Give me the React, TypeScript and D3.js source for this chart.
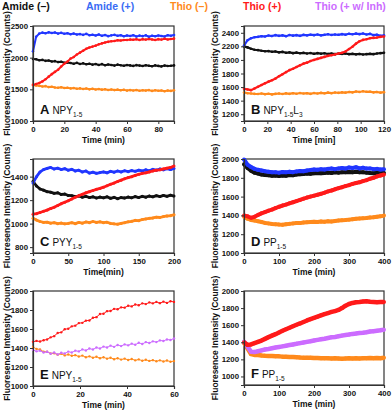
import React, { useEffect, useRef } from 'react';
import * as d3 from 'd3';

const WIDTH = 392;
const HEIGHT = 412;
const FONT = "Liberation Sans, Arial, sans-serif";

const COLORS = {
    black: "#111111",
    blue: "#2136ff",
    orange: "#ff8a1c",
    red: "#ff1a1a",
    violet: "#cc6cff",
};

const LEGEND = [
    { label: "Amide (\u2013)", color: "#111111", x: 2 },
    { label: "Amide (+)", color: "#3a6cf4", x: 86 },
    { label: "Thio (\u2013)", color: "#ff8a1c", x: 170 },
    { label: "Thio (+)", color: "#ff1a1a", x: 243 },
    { label: "Thio (+ w/ Inh)", color: "#cc6cff", x: 315 },
];

// ---- panel A : NPY1-5, 0-90 min
const A_BLUE = [2100, 2330, 2380, 2395, 2385, 2400, 2390, 2398, 2380, 2392, 2378, 2385, 2370, 2380, 2365, 2372, 2360, 2375, 2355, 2362, 2350, 2365, 2345, 2358, 2340, 2352, 2360, 2345, 2355, 2338, 2350, 2342, 2355, 2335, 2348, 2340, 2352, 2330, 2345, 2338, 2350, 2342, 2335, 2355, 2345, 2358];
const A_BLACK = [1980, 1975, 1960, 1965, 1950, 1955, 1940, 1945, 1930, 1935, 1920, 1925, 1915, 1905, 1918, 1900, 1910, 1895, 1905, 1890, 1900, 1885, 1898, 1880, 1892, 1885, 1875, 1890, 1880, 1872, 1885, 1878, 1870, 1882, 1875, 1868, 1880, 1872, 1865, 1878, 1870, 1862, 1875, 1868, 1872, 1878];
const A_RED = [1570, 1585, 1600, 1625, 1660, 1700, 1740, 1775, 1810, 1860, 1905, 1940, 1985, 2010, 2050, 2080, 2110, 2140, 2160, 2175, 2190, 2210, 2225, 2240, 2250, 2260, 2262, 2275, 2270, 2280, 2278, 2285, 2282, 2290, 2280, 2292, 2285, 2295, 2288, 2280, 2292, 2285, 2298, 2288, 2295, 2300];
const A_ORANGE = [1570, 1560, 1555, 1545, 1550, 1535, 1540, 1530, 1525, 1532, 1520, 1525, 1515, 1520, 1510, 1515, 1505, 1512, 1500, 1508, 1498, 1505, 1495, 1502, 1490, 1498, 1488, 1495, 1485, 1492, 1480, 1488, 1482, 1490, 1478, 1485, 1480, 1488, 1475, 1485, 1478, 1482, 1470, 1480, 1475, 1485];

// ---- panel B : NPY1-5L3, 0-120 min
const B_BLUE = [2210, 2290, 2320, 2335, 2340, 2350, 2345, 2360, 2352, 2365, 2355, 2362, 2350, 2368, 2358, 2365, 2355, 2370, 2362, 2372, 2365, 2375, 2362, 2370, 2378, 2368, 2375, 2370, 2380, 2372, 2385, 2378, 2388, 2380, 2390, 2375, 2385, 2365, 2372, 2355, 2362];
const B_BLACK = [2200, 2185, 2165, 2150, 2145, 2135, 2128, 2130, 2120, 2125, 2112, 2118, 2105, 2112, 2100, 2108, 2098, 2105, 2095, 2102, 2090, 2100, 2092, 2098, 2088, 2095, 2085, 2092, 2088, 2095, 2085, 2090, 2082, 2088, 2080, 2085, 2090, 2085, 2095, 2100, 2105];
const B_RED = [1575, 1565, 1555, 1580, 1605, 1630, 1655, 1680, 1700, 1725, 1760, 1790, 1820, 1850, 1870, 1895, 1920, 1945, 1960, 1985, 2000, 2015, 2030, 2045, 2060, 2070, 2080, 2095, 2105, 2125, 2160, 2195, 2240, 2275, 2295, 2305, 2320, 2325, 2330, 2340, 2345];
const B_ORANGE = [1520, 1510, 1505, 1500, 1498, 1505, 1495, 1502, 1492, 1500, 1505, 1498, 1508, 1500, 1510, 1502, 1512, 1505, 1510, 1500, 1512, 1505, 1515, 1508, 1518, 1510, 1520, 1515, 1522, 1518, 1528, 1522, 1535, 1528, 1538, 1530, 1532, 1522, 1528, 1518, 1525];

// ---- panel C : PYY1-5, 0-200 min
const C_BLUE = [1345, 1400, 1440, 1460, 1470, 1478, 1465, 1472, 1460, 1468, 1455, 1462, 1448, 1455, 1440, 1448, 1430, 1438, 1428, 1435, 1440, 1432, 1445, 1438, 1448, 1440, 1450, 1442, 1452, 1445, 1455, 1448, 1458, 1450, 1462, 1455, 1465, 1458, 1468, 1460, 1470];
const C_BLACK = [1360, 1320, 1295, 1285, 1272, 1268, 1258, 1262, 1248, 1252, 1240, 1238, 1230, 1235, 1225, 1232, 1222, 1228, 1218, 1226, 1220, 1228, 1215, 1224, 1212, 1222, 1218, 1226, 1220, 1230, 1222, 1232, 1225, 1235, 1228, 1238, 1230, 1240, 1232, 1242, 1235];
const C_RED = [1080, 1085, 1095, 1105, 1115, 1128, 1140, 1155, 1170, 1182, 1195, 1210, 1225, 1238, 1250, 1262, 1272, 1282, 1292, 1300, 1310, 1322, 1335, 1345, 1358, 1370, 1382, 1392, 1400, 1410, 1420, 1428, 1432, 1440, 1448, 1455, 1458, 1465, 1472, 1478, 1490];
const C_ORANGE = [1045, 1030, 1018, 1010, 1012, 1004, 1008, 1000, 1005, 998, 1002, 1008, 1000, 1010, 1004, 1014, 1008, 1018, 1010, 1015, 1008, 1012, 1002, 998, 995, 1002, 1008, 1015, 1020, 1028, 1025, 1035, 1040, 1045, 1048, 1055, 1052, 1060, 1065, 1068, 1075];

// ---- panel D : PP1-5, 0-400 min
const D_BLUE = [1995, 1940, 1915, 1895, 1885, 1878, 1870, 1865, 1860, 1858, 1855, 1862, 1858, 1865, 1860, 1868, 1872, 1870, 1878, 1882, 1888, 1885, 1892, 1888, 1895, 1898, 1892, 1900, 1905, 1898, 1910, 1905, 1912, 1900, 1908, 1898, 1900, 1892, 1895, 1888, 1892];
const D_BLACK = [1945, 1905, 1875, 1855, 1845, 1835, 1830, 1828, 1822, 1825, 1820, 1825, 1822, 1830, 1828, 1835, 1838, 1840, 1845, 1842, 1848, 1850, 1848, 1852, 1855, 1852, 1858, 1855, 1860, 1858, 1862, 1858, 1865, 1860, 1858, 1855, 1850, 1848, 1852, 1848, 1850];
const D_RED = [1400, 1390, 1375, 1385, 1405, 1422, 1435, 1450, 1462, 1478, 1492, 1505, 1515, 1528, 1540, 1552, 1565, 1578, 1590, 1600, 1610, 1620, 1630, 1642, 1655, 1665, 1678, 1690, 1700, 1712, 1722, 1735, 1745, 1752, 1765, 1775, 1790, 1800, 1815, 1825, 1835];
const D_ORANGE = [1385, 1365, 1352, 1345, 1338, 1330, 1320, 1315, 1308, 1305, 1302, 1300, 1305, 1310, 1315, 1320, 1318, 1325, 1328, 1330, 1332, 1330, 1335, 1332, 1338, 1335, 1340, 1345, 1348, 1350, 1355, 1360, 1365, 1368, 1370, 1372, 1378, 1380, 1385, 1390, 1398];

// ---- panel E : NPY1-5 with inhibitor, 0-60 min
const E_RED = [1465, 1475, 1468, 1482, 1490, 1512, 1525, 1558, 1565, 1598, 1602, 1628, 1635, 1662, 1665, 1688, 1690, 1718, 1725, 1758, 1760, 1788, 1790, 1812, 1808, 1828, 1825, 1845, 1838, 1858, 1850, 1870, 1862, 1880, 1870, 1885, 1872, 1888, 1875, 1892, 1885];
const E_VIOLET = [1380, 1365, 1372, 1352, 1360, 1340, 1352, 1332, 1350, 1342, 1362, 1352, 1372, 1364, 1385, 1374, 1395, 1384, 1405, 1394, 1415, 1405, 1425, 1412, 1432, 1420, 1438, 1428, 1446, 1434, 1455, 1442, 1462, 1452, 1470, 1462, 1480, 1474, 1490, 1484, 1500];
const E_ORANGE = [1410, 1390, 1385, 1360, 1360, 1342, 1345, 1330, 1340, 1322, 1332, 1318, 1325, 1310, 1320, 1302, 1312, 1298, 1308, 1292, 1302, 1288, 1298, 1282, 1292, 1278, 1288, 1274, 1284, 1270, 1280, 1266, 1276, 1264, 1272, 1260, 1270, 1258, 1268, 1256, 1262];

// ---- panel F : PP1-5 with inhibitor, 0-400 min
const F_RED = [1400, 1370, 1375, 1390, 1405, 1420, 1440, 1460, 1478, 1495, 1515, 1535, 1552, 1570, 1588, 1605, 1620, 1638, 1655, 1670, 1685, 1700, 1715, 1730, 1742, 1755, 1765, 1778, 1800, 1828, 1848, 1860, 1868, 1872, 1878, 1880, 1875, 1872, 1868, 1870, 1872];
const F_VIOLET = [1410, 1350, 1290, 1285, 1295, 1305, 1315, 1322, 1330, 1338, 1345, 1352, 1360, 1368, 1375, 1382, 1390, 1398, 1405, 1412, 1420, 1428, 1435, 1442, 1450, 1458, 1462, 1470, 1478, 1485, 1490, 1498, 1502, 1508, 1512, 1518, 1525, 1530, 1535, 1540, 1548];
const F_ORANGE = [1395, 1330, 1262, 1252, 1250, 1245, 1242, 1240, 1238, 1236, 1235, 1232, 1230, 1228, 1228, 1225, 1222, 1220, 1220, 1218, 1215, 1215, 1213, 1212, 1212, 1210, 1212, 1210, 1208, 1210, 1212, 1210, 1212, 1210, 1214, 1212, 1215, 1212, 1216, 1214, 1218];

const PANELS = [
    {
        letter: "A", name: "NPY", sub: "1-5", tail: "", xTitle: "Time (min)",
        box: [33, 174, 26, 121], xMax: 90, yDomain: [1000, 2500],
        xTicks: [0, 20, 40, 60, 80], yTicks: [1000, 1500, 2000, 2500],
        lw: 2, r: 1.3,
        series: [[A_ORANGE, "orange"], [A_BLACK, "black"], [A_BLUE, "blue"], [A_RED, "red"]],
    },
    {
        letter: "B", name: "NPY", sub: "1-5", tail: "L", tailSub: "3", xTitle: "Time [min]",
        box: [244, 384, 26, 121], xMax: 120, yDomain: [1100, 2500],
        xTicks: [0, 20, 40, 60, 80, 100, 120], yTicks: [1200, 1400, 1600, 1800, 2000, 2200, 2400],
        lw: 2.2, r: 1.3,
        series: [[B_ORANGE, "orange"], [B_BLACK, "black"], [B_BLUE, "blue"], [B_RED, "red"]],
    },
    {
        letter: "C", name: "PYY", sub: "1-5", tail: "", xTitle: "Time(min)",
        box: [33, 174, 159, 253], xMax: 200, yDomain: [750, 1550],
        xTicks: [0, 50, 100, 150, 200], yTicks: [800, 1000, 1200, 1400],
        lw: 2.8, r: 1.5,
        series: [[C_ORANGE, "orange"], [C_BLACK, "black"], [C_BLUE, "blue"], [C_RED, "red"]],
    },
    {
        letter: "D", name: "PP", sub: "1-5", tail: "", xTitle: "Time (min)",
        box: [244, 384, 159, 253], xMax: 400, yDomain: [1000, 2000],
        xTicks: [0, 100, 200, 300, 400], yTicks: [1000, 1200, 1400, 1600, 1800, 2000],
        lw: 4, r: 2,
        series: [[D_ORANGE, "orange"], [D_BLACK, "black"], [D_BLUE, "blue"], [D_RED, "red"]],
    },
    {
        letter: "E", name: "NPY", sub: "1-5", tail: "", xTitle: "Time (min)",
        box: [33, 174, 291, 386], xMax: 60, yDomain: [1000, 2000],
        xTicks: [0, 20, 40, 60], yTicks: [1000, 1200, 1400, 1600, 1800, 2000],
        lw: 1, r: 1.2,
        series: [[E_ORANGE, "orange"], [E_VIOLET, "violet"], [E_RED, "red"]],
    },
    {
        letter: "F", name: "PP", sub: "1-5", tail: "", xTitle: "Time (min)",
        box: [244, 384, 291, 385], xMax: 400, yDomain: [900, 2000],
        xTicks: [0, 100, 200, 300, 400], yTicks: [1000, 1200, 1400, 1600, 1800, 2000],
        lw: 4.5, r: 2,
        series: [[F_ORANGE, "orange"], [F_VIOLET, "violet"], [F_RED, "red"]],
    },
];

export default function App() {
    const svgRef = useRef(null);

    useEffect(() => {
        const svg = d3.select(svgRef.current);
        svg.selectAll("*").remove();

        // legend across the top
        svg.append("g").selectAll("text")
            .data(LEGEND)
            .join("text")
            .attr("x", d => d.x)
            .attr("y", 10)
            .attr("fill", d => d.color)
            .attr("font-family", FONT)
            .attr("font-weight", "bold")
            .attr("font-size", 10.5)
            .text(d => d.label);

        PANELS.forEach(p => {
            const [left, right, top, bottom] = p.box;
            const g = svg.append("g");

            const x = d3.scaleLinear().domain([0, p.xMax]).range([left, right]);
            const y = d3.scaleLinear().domain(p.yDomain).range([bottom, top]);

            // frame
            g.append("rect")
                .attr("x", left).attr("y", top)
                .attr("width", right - left).attr("height", bottom - top)
                .attr("fill", "none").attr("stroke", "#333").attr("stroke-width", 1.2);

            // data
            p.series.forEach(([vals, key]) => {
                const pts = vals.map((v, i) => [i * p.xMax / (vals.length - 1), v]);
                const line = d3.line().x(d => x(d[0])).y(d => y(d[1]));
                g.append("path")
                    .attr("d", line(pts))
                    .attr("fill", "none")
                    .attr("stroke", COLORS[key])
                    .attr("stroke-width", p.lw)
                    .attr("stroke-linejoin", "round");
                g.append("g").selectAll("circle")
                    .data(pts)
                    .join("circle")
                    .attr("cx", d => x(d[0]))
                    .attr("cy", d => y(d[1]))
                    .attr("r", p.r)
                    .attr("fill", COLORS[key]);
            });

            // axes
            const xAxis = g.append("g")
                .attr("transform", `translate(0, ${bottom})`)
                .call(d3.axisBottom(x).tickValues(p.xTicks).tickFormat(d3.format("d")).tickSize(3).tickPadding(2));
            const yAxis = g.append("g")
                .attr("transform", `translate(${left}, 0)`)
                .call(d3.axisLeft(y).tickValues(p.yTicks).tickFormat(d3.format("d")).tickSize(3).tickPadding(2));
            [xAxis, yAxis].forEach(ax => {
                ax.select(".domain").attr("stroke", "#333").attr("stroke-width", 1.2);
                ax.selectAll(".tick line").attr("stroke", "#333").attr("stroke-width", 1);
                ax.selectAll(".tick text")
                    .attr("font-family", FONT)
                    .attr("font-weight", "bold")
                    .attr("font-size", 7.8)
                    .attr("fill", "#111");
            });

            // axis titles
            g.append("text")
                .attr("x", (left + right) / 2)
                .attr("y", bottom + 22)
                .attr("text-anchor", "middle")
                .attr("font-family", FONT)
                .attr("font-weight", "bold")
                .attr("font-size", 8.5)
                .attr("fill", "#111")
                .text(p.xTitle);
            const ty = left < 100 ? 9.5 : 218;
            g.append("text")
                .attr("transform", `translate(${ty}, ${(top + bottom) / 2}) rotate(-90)`)
                .attr("text-anchor", "middle")
                .attr("font-family", FONT)
                .attr("font-weight", "bold")
                .attr("font-size", 8.5)
                .attr("fill", "#111")
                .text("Fluoresence Intensity (Counts)");

            // panel label
            const lab = g.append("text")
                .attr("x", left + 7)
                .attr("y", bottom - 7)
                .attr("font-family", FONT)
                .attr("fill", "#111");
            lab.append("tspan").attr("font-weight", "bold").attr("font-size", 13).text(p.letter);
            lab.append("tspan").attr("dx", 3).attr("font-size", 10).text(p.name);
            lab.append("tspan").attr("dy", 2.5).attr("font-size", 6.5).text(p.sub);
            if (p.tail) {
                lab.append("tspan").attr("dy", -2.5).attr("font-size", 10).text(p.tail);
                lab.append("tspan").attr("dy", 2.5).attr("font-size", 6.5).text(p.tailSub);
            }
        });
    }, []);

    return (
        <svg ref={svgRef} width={WIDTH} height={HEIGHT}
            style={{ position: "absolute", left: 0, top: 0, background: "#fff" }} />
    );
}
